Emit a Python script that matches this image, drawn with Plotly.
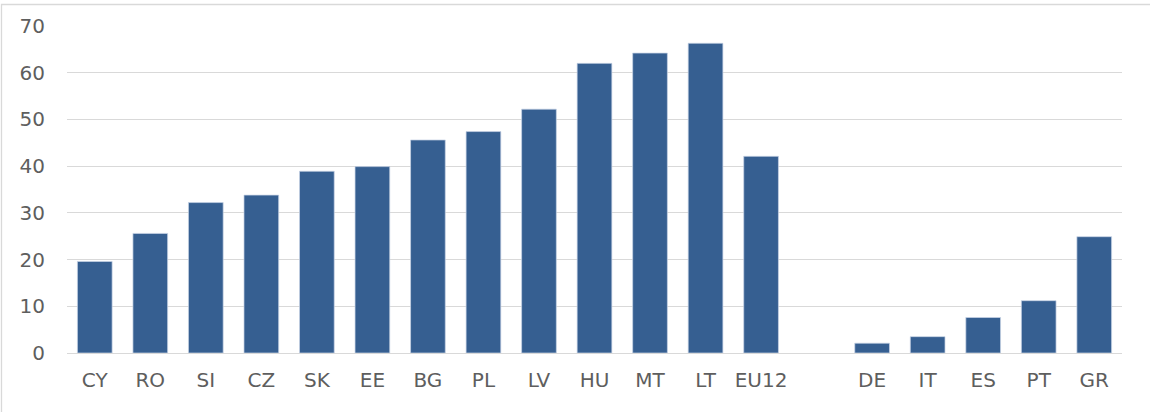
import plotly.graph_objects as go

categories = ["CY", "RO", "SI", "CZ", "SK", "EE", "BG", "PL", "LV", "HU", "MT", "LT", "EU12",
              " ", "DE", "IT", "ES", "PT", "GR"]
values = [19.6, 25.6, 32.2, 33.8, 38.9, 39.9, 45.6, 47.4, 52.2, 62.0, 64.2, 66.3, 42.1,
          None, 2.1, 3.5, 7.6, 11.2, 24.9]
y_ticks = [0, 10, 20, 30, 40, 50, 60, 70]

W, H = 1150, 412
L, R, T, B = 67, 28, 26, 59.3
pw, ph = W - L - R, H - T - B

fig = go.Figure(go.Bar(
    x=categories, y=values,
    marker=dict(color="#365F91", line=dict(color="rgba(200,212,230,0.9)", width=0.8)),
    width=0.625,
    hoverinfo="x+y",
))

fig.update_layout(
    width=W, height=H,
    margin=dict(l=L, r=R, t=T, b=B, pad=0),
    paper_bgcolor="white", plot_bgcolor="white",
    font=dict(family="DejaVu Sans, Verdana, sans-serif", size=20, color="#5E5E5E"),
    showlegend=False,
    xaxis=dict(
        type="category", categoryorder="array", categoryarray=categories,
        showgrid=False, showline=False, zeroline=False, ticks="",
        tickfont=dict(size=20, color="#5E5E5E"),
        ticklabelstandoff=13,
    ),
    yaxis=dict(
        range=[0, 70], tickvals=y_ticks, showgrid=True, gridcolor="#D9D9D9", gridwidth=1.3,
        zeroline=True, zerolinecolor="#D9D9D9", zerolinewidth=1.3,
        showline=False, ticks="", ticklabelstandoff=21,
        tickfont=dict(size=20, color="#5E5E5E"),
    ),
    shapes=[dict(
        type="rect", xref="paper", yref="paper",
        x0=(1.5 - L) / pw, x1=(W + 5 - L) / pw,
        y0=(H - (H + 5) - B) / ph, y1=(H - 4.5 - B) / ph,
        line=dict(color="#D9D9D9", width=1.3), fillcolor="rgba(0,0,0,0)", layer="below",
    )],
)

html = fig.to_html(include_plotlyjs=True, full_html=True, config={"displayModeBar": False})
html = html.replace("<body>", '<body style="margin:0;padding:0;overflow:hidden">', 1)
with open("out.html", "w", encoding="utf-8") as f:
    f.write(html)
